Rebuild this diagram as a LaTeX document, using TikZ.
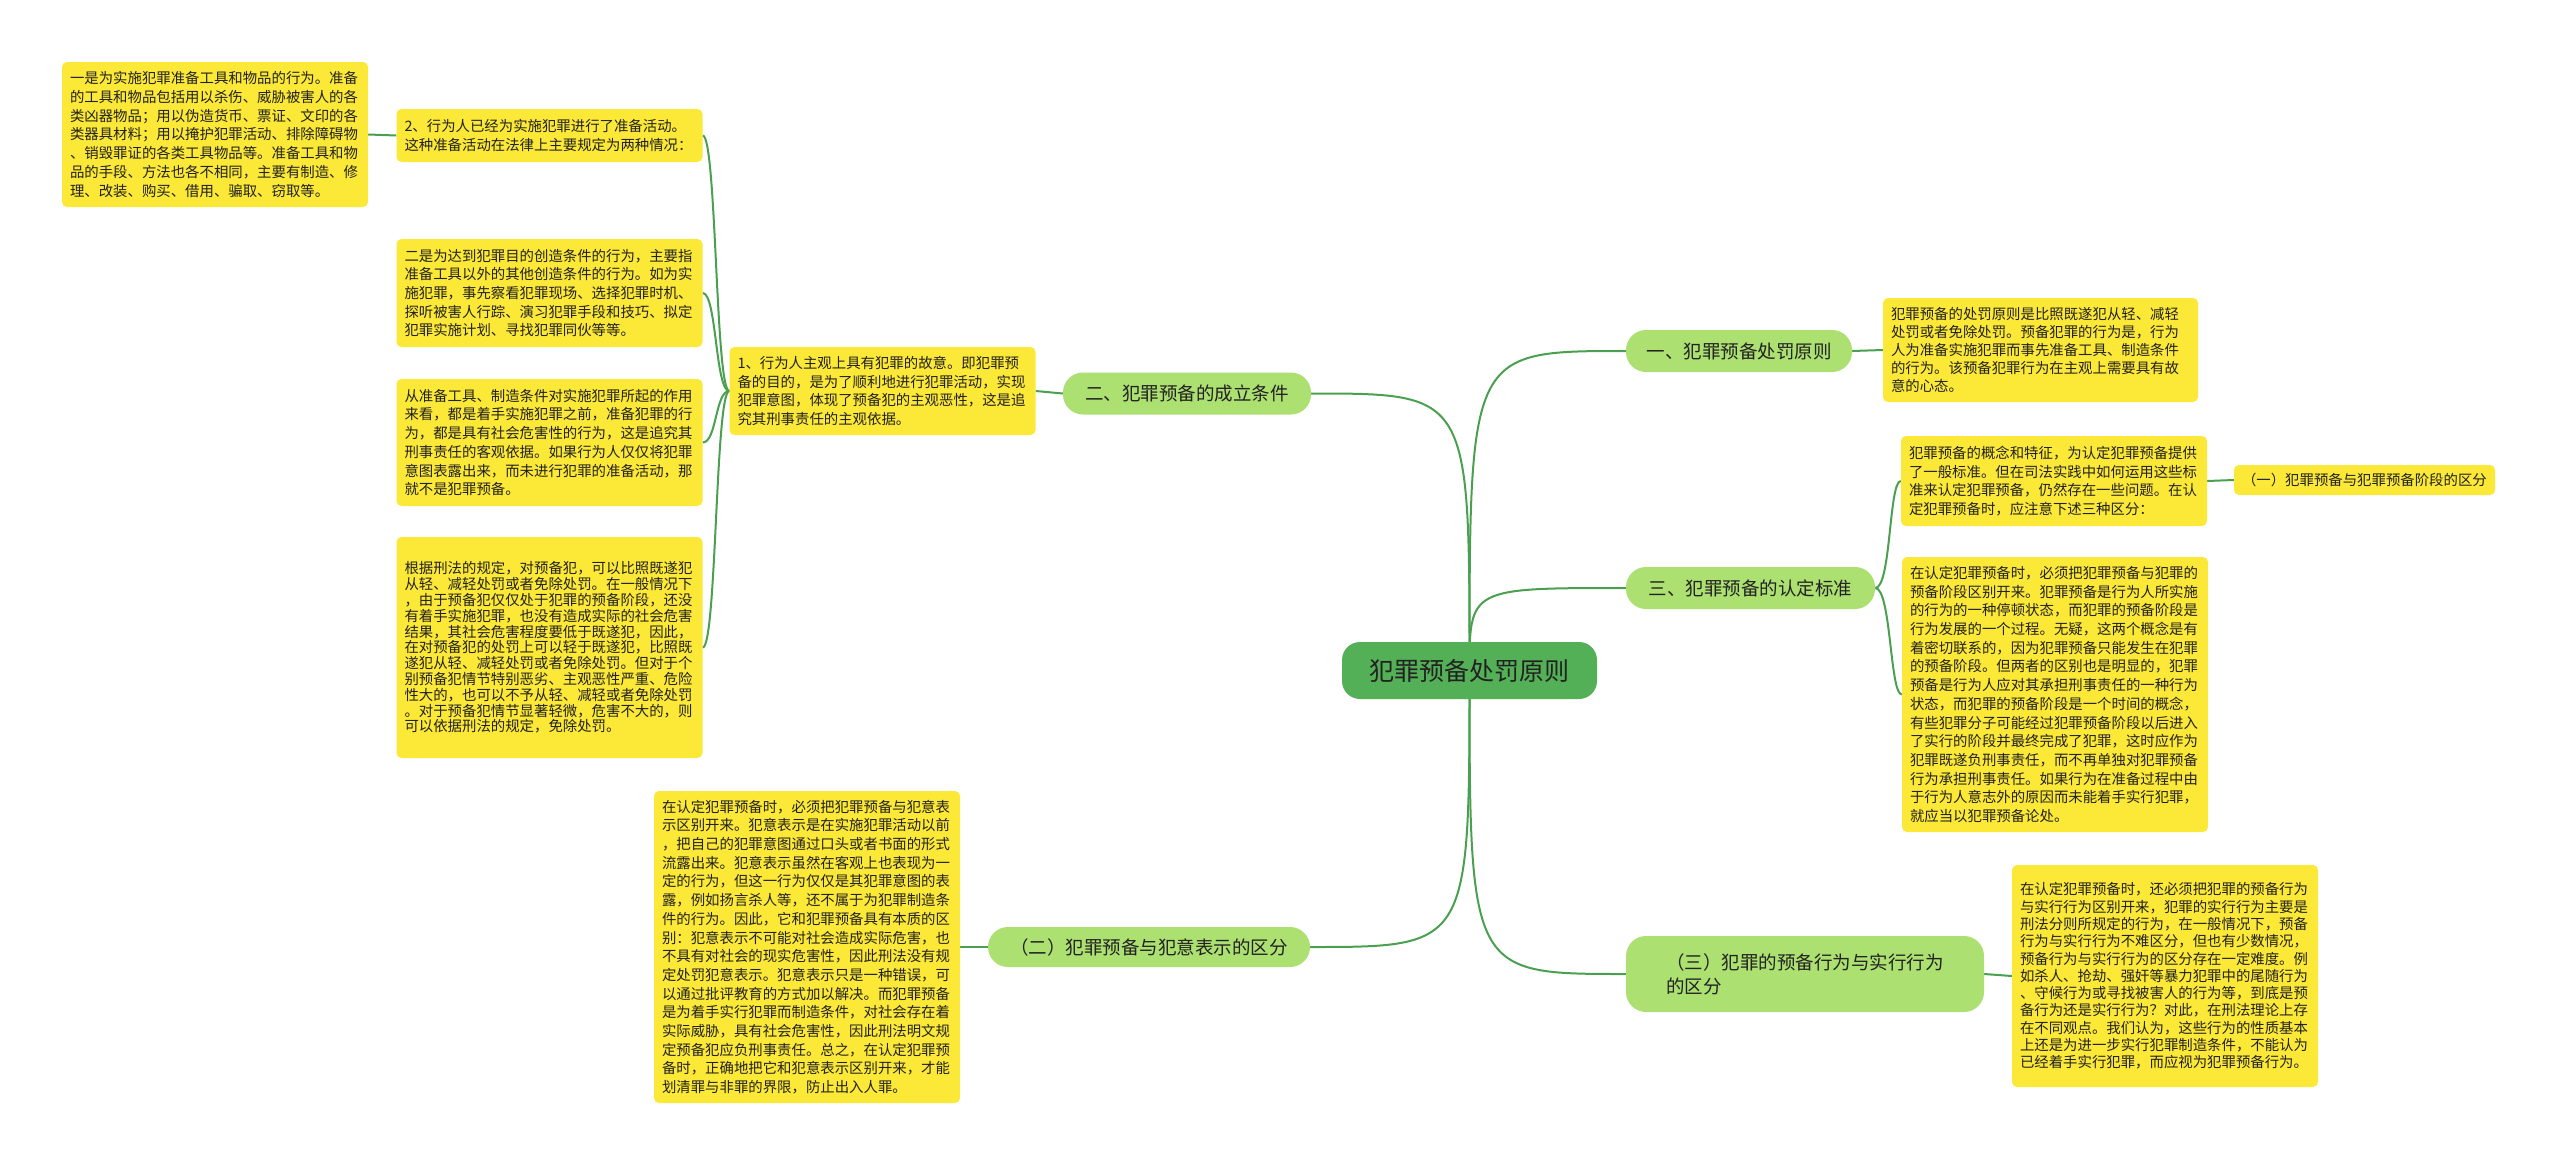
\documentclass[tikz,border=0pt]{standalone}
\usepackage{fontspec}
\setmainfont{Noto Sans CJK SC}
\usetikzlibrary{backgrounds}
\definecolor{rootgreen}{RGB}{84,176,86}
\definecolor{topicgreen}{RGB}{172,224,112}
\definecolor{notebg}{RGB}{252,232,55}
\definecolor{linkgreen}{RGB}{74,160,80}
\definecolor{inktext}{RGB}{34,34,34}

\tikzset{
  rootbox/.style={fill=rootgreen, rounded corners=18pt, minimum width=255pt, minimum height=57pt,
    font=\fontsize{25}{30}\selectfont, text=inktext},
  topicbox/.style={fill=topicgreen, rounded corners=20pt, minimum height=42pt,
    font=\fontsize{18.5}{24}\selectfont, text=inktext},
  notebox/.style={fill=notebg, rounded corners=5pt, text width=290pt, inner xsep=8pt, inner ysep=4pt,
    align=left, font=\fontsize{14.4}{18.7}\selectfont, text=inktext},
  linkline/.style={draw=linkgreen, line width=2pt},
}

\begin{document}
\begin{tikzpicture}[x=1pt,y=-1pt]
\useasboundingbox (0,0) rectangle (2560,1167);

% centre
\node[rootbox] (main) at (1469.5,670.5) {犯罪预备处罚原则};

% first level
\node[topicbox, minimum width=248pt] (cond) at (1187,393.5) {二、犯罪预备的成立条件};
\node[topicbox, minimum width=322pt, minimum height=40pt] (intent) at (1149,947) {（二）犯罪预备与犯意表示的区分};
\node[topicbox, minimum width=226pt] (punish) at (1739,351) {一、犯罪预备处罚原则};
\node[topicbox, minimum width=249pt] (criteria) at (1750.5,588) {三、犯罪预备的认定标准};
\node[topicbox, align=left, minimum width=358pt, minimum height=76pt] (acts) at (1805,974)
  {（三）犯罪的预备行为与实行行为\\的区分};

% left notes
\node[notebox, minimum height=88pt] (subj) at (882.5,391) {1、行为人主观上具有犯罪的故意。即犯罪预\\备的目的，是为了顺利地进行犯罪活动，实现\\犯罪意图，体现了预备犯的主观恶性，这是追\\究其刑事责任的主观依据。};
\node[notebox, minimum height=53pt] (prep) at (549.5,135.5) {2、行为人已经为实施犯罪进行了准备活动。\\这种准备活动在法律上主要规定为两种情况：};
\node[notebox, minimum height=145pt] (tools) at (215,134.5) {一是为实施犯罪准备工具和物品的行为。准备\\的工具和物品包括用以杀伤、威胁被害人的各\\类凶器物品；用以伪造货币、票证、文印的各\\类器具材料；用以掩护犯罪活动、排除障碍物\\、销毁罪证的各类工具物品等。准备工具和物\\品的手段、方法也各不相同，主要有制造、修\\理、改装、购买、借用、骗取、窃取等。};
\node[notebox, minimum height=108pt] (create) at (549.5,293) {二是为达到犯罪目的创造条件的行为，主要指\\准备工具以外的其他创造条件的行为。如为实\\施犯罪，事先察看犯罪现场、选择犯罪时机、\\探听被害人行踪、演习犯罪手段和技巧、拟定\\犯罪实施计划、寻找犯罪同伙等等。};
\node[notebox, minimum height=127pt] (effect) at (549.5,442.5) {从准备工具、制造条件对实施犯罪所起的作用\\来看，都是着手实施犯罪之前，准备犯罪的行\\为，都是具有社会危害性的行为，这是追究其\\刑事责任的客观依据。如果行为人仅仅将犯罪\\意图表露出来，而未进行犯罪的准备活动，那\\就不是犯罪预备。};
\node[notebox, minimum height=221pt, font=\fontsize{14.4}{15.8}\selectfont] (penalty) at (549.5,647.5) {根据刑法的规定，对预备犯，可以比照既遂犯\\从轻、减轻处罚或者免除处罚。在一般情况下\\，由于预备犯仅仅处于犯罪的预备阶段，还没\\有着手实施犯罪，也没有造成实际的社会危害\\结果，其社会危害程度要低于既遂犯，因此，\\在对预备犯的处罚上可以轻于既遂犯，比照既\\遂犯从轻、减轻处罚或者免除处罚。但对于个\\别预备犯情节特别恶劣、主观恶性严重、危险\\性大的，也可以不予从轻、减轻或者免除处罚\\。对于预备犯情节显著轻微，危害不大的，则\\可以依据刑法的规定，免除处罚。};
\node[notebox, minimum height=312pt] (intentnote) at (807,947) {在认定犯罪预备时，必须把犯罪预备与犯意表\\示区别开来。犯意表示是在实施犯罪活动以前\\，把自己的犯罪意图通过口头或者书面的形式\\流露出来。犯意表示虽然在客观上也表现为一\\定的行为，但这一行为仅仅是其犯罪意图的表\\露，例如扬言杀人等，还不属于为犯罪制造条\\件的行为。因此，它和犯罪预备具有本质的区\\别：犯意表示不可能对社会造成实际危害，也\\不具有对社会的现实危害性，因此刑法没有规\\定处罚犯意表示。犯意表示只是一种错误，可\\以通过批评教育的方式加以解决。而犯罪预备\\是为着手实行犯罪而制造条件，对社会存在着\\实际威胁，具有社会危害性，因此刑法明文规\\定预备犯应负刑事责任。总之，在认定犯罪预\\备时，正确地把它和犯意表示区别开来，才能\\划清罪与非罪的界限，防止出入人罪。};

% right notes
\node[notebox, text width=299pt, minimum height=104pt, font=\fontsize{14.4}{18}\selectfont] (punishnote) at (2040.5,350) {犯罪预备的处罚原则是比照既遂犯从轻、减轻\\处罚或者免除处罚。预备犯罪的行为是，行为\\人为准备实施犯罪而事先准备工具、制造条件\\的行为。该预备犯罪行为在主观上需要具有故\\意的心态。};
\node[notebox, minimum height=90pt] (critnote) at (2054,481) {犯罪预备的概念和特征，为认定犯罪预备提供\\了一般标准。但在司法实践中如何运用这些标\\准来认定犯罪预备，仍然存在一些问题。在认\\定犯罪预备时，应注意下述三种区分：};
\node[notebox, text width=245pt, minimum height=30pt] (stage) at (2364.5,480) {（一）犯罪预备与犯罪预备阶段的区分};
\node[notebox, minimum height=275pt] (stagenote) at (2055,694.5) {在认定犯罪预备时，必须把犯罪预备与犯罪的\\预备阶段区别开来。犯罪预备是行为人所实施\\的行为的一种停顿状态，而犯罪的预备阶段是\\行为发展的一个过程。无疑，这两个概念是有\\着密切联系的，因为犯罪预备只能发生在犯罪\\的预备阶段。但两者的区别也是明显的，犯罪\\预备是行为人应对其承担刑事责任的一种行为\\状态，而犯罪的预备阶段是一个时间的概念，\\有些犯罪分子可能经过犯罪预备阶段以后进入\\了实行的阶段并最终完成了犯罪，这时应作为\\犯罪既遂负刑事责任，而不再单独对犯罪预备\\行为承担刑事责任。如果行为在准备过程中由\\于行为人意志外的原因而未能着手实行犯罪，\\就应当以犯罪预备论处。};
\node[notebox, minimum height=222pt, font=\fontsize{14.4}{17.3}\selectfont] (actsnote) at (2165,976) {在认定犯罪预备时，还必须把犯罪的预备行为\\与实行行为区别开来，犯罪的实行行为主要是\\刑法分则所规定的行为，在一般情况下，预备\\行为与实行行为不难区分，但也有少数情况，\\预备行为与实行行为的区分存在一定难度。例\\如杀人、抢劫、强奸等暴力犯罪中的尾随行为\\、守候行为或寻找被害人的行为等，到底是预\\备行为还是实行行为？对此，在刑法理论上存\\在不同观点。我们认为，这些行为的性质基本\\上还是为进一步实行犯罪制造条件，不能认为\\已经着手实行犯罪，而应视为犯罪预备行为。};

% connectors
\begin{scope}[on background layer]
  \fill[white] (0,0) rectangle (2560,1167);
  \draw[linkline] (main.center) .. controls (main.center |- cond.east) .. (cond.east);
  \draw[linkline] (main.center) .. controls (main.center |- intent.east) .. (intent.east);
  \draw[linkline] (main.center) .. controls (main.center |- punish.west) .. (punish.west);
  \draw[linkline] (main.center) .. controls (main.center |- criteria.west) .. (criteria.west);
  \draw[linkline] (main.center) .. controls (main.center |- acts.west) .. (acts.west);
  \draw[linkline] (cond.west) -- (subj.east);
  \foreach \n in {prep,create,effect,penalty}
    \draw[linkline] (subj.west) .. controls +(-14,0) and +(14,0) .. (\n.east);
  \draw[linkline] (prep.west) -- (tools.east);
  \draw[linkline] (intent.west) -- (intentnote.east);
  \draw[linkline] (punish.east) -- (punishnote.west);
  \draw[linkline] (criteria.east) .. controls +(16,0) and +(-12,0) .. (critnote.west);
  \draw[linkline] (criteria.east) .. controls +(16,0) and +(-12,0) .. (stagenote.west);
  \draw[linkline] (critnote.east) -- (stage.west);
  \draw[linkline] (acts.east) -- (actsnote.west);
\end{scope}
\end{tikzpicture}
\end{document}
